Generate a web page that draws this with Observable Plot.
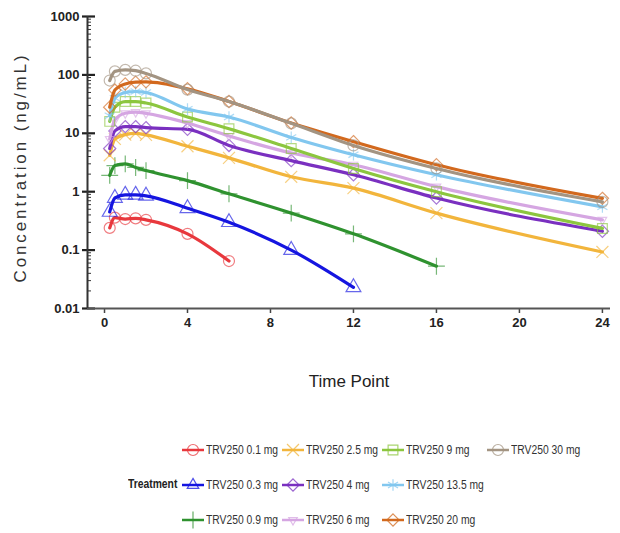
<!DOCTYPE html>
<html>
<head>
<meta charset="utf-8">
<script src="https://cdn.jsdelivr.net/npm/d3@7"></script>
<script src="https://cdn.jsdelivr.net/npm/@observablehq/plot@0.6"></script>
<style>
  body { margin: 0; background: #fff; }
  #wrap { position: relative; width: 620px; height: 533px; overflow: hidden; }
  .lg { position: absolute; display: flex; align-items: center; height: 20px;
        font-family: "Liberation Sans", Arial, sans-serif;
        font-size: 12px; color: #333; white-space: nowrap; }
  .lg svg { margin-right: 1px; flex: none; }
  .lg span { display: inline-block; transform: scaleX(0.86); transform-origin: left center; }
  .tt { position: absolute; font-family: "Liberation Sans", Arial, sans-serif;
        font-weight: bold; font-size: 12px; color: #222; transform: scaleX(0.86); transform-origin: right center; }
</style>
</head>
<body>
<div id="wrap"></div>
<script>
// ---- data ----
const times = [0.25, 0.5, 1, 1.5, 2, 4, 6, 9, 12, 16, 24];
const treatments = ["TRV250 0.1 mg", "TRV250 0.3 mg", "TRV250 0.9 mg", "TRV250 2.5 mg", "TRV250 4 mg",
                    "TRV250 6 mg", "TRV250 9 mg", "TRV250 13.5 mg", "TRV250 20 mg", "TRV250 30 mg"];
const c01  = [0.24, 0.36, 0.34, 0.35, 0.33, 0.19, 0.065];
const c03  = [0.45, 0.78, 0.88, 0.88, 0.85, 0.52, 0.30, 0.10, 0.023];
const c09  = [1.9, 2.8, 3.0, 2.6, 2.3, 1.55, 0.92, 0.43, 0.19, 0.053];
const c25  = [4.2, 8, 9.5, 10, 9.4, 6, 3.8, 1.8, 1.15, 0.43, 0.093];
const c4   = [5.5, 11, 13, 13, 12.5, 11.7, 6.2, 3.4, 1.95, 0.78, 0.21];
const c6   = [8, 17, 22, 23, 22, 15, 9, 4.6, 2.9, 1.22, 0.33];
const c9   = [16, 28, 35, 35, 33, 19, 12, 5.5, 2.5, 1.0, 0.235];
const c135 = [20, 40, 50, 52, 50, 26, 19, 8.5, 4.3, 1.95, 0.55];
const c20  = [28, 55, 70, 75, 76, 58, 35, 15, 7.2, 2.9, 0.77];
const c30  = [80, 115, 122, 118, 106, 56, 35, 14.8, 6.2, 2.5, 0.67];
const seriesValues = [c01, c03, c09, c25, c4, c6, c9, c135, c20, c30];
const yTicks = [0.01, 0.1, 1, 10, 100, 1000];
const yTickLabels = ["0.01", "0.1", "1", "10", "100", "1000"];
const xTicks = [0, 4, 8, 12, 16, 20, 24];

// ---- styles ----
const colors = ["#e8383d", "#1515e0", "#2f922f", "#f2b53c", "#7a30c0", "#d5a6e2", "#8cc63f", "#82c7ef", "#d2691e", "#a39482"];
const triDown = {
  draw(ctx, size) {
    const s = Math.sqrt(size / (Math.sqrt(3) * 0.75)) / 2;
    const h = s * Math.sqrt(3);
    ctx.moveTo(0, h * 2 / 3);
    ctx.lineTo(s, -h / 3);
    ctx.lineTo(-s, -h / 3);
    ctx.closePath();
  }
};
const symbols = ["circle", "triangle", "plus", "times", "diamond2", triDown, "square", "asterisk", "diamond2", "circle"];

const rows = [];
seriesValues.forEach((vals, i) => vals.forEach((v, j) => rows.push({t: times[j], c: v, s: i})));

const font = `"Liberation Sans", Arial, sans-serif`;
const minors = [];
for (let e = -2; e < 3; e++) for (let k = 2; k <= 9; k++) minors.push(k * Math.pow(10, e));

const marks = [];
seriesValues.forEach((vals, i) => {
  const d = rows.filter(r => r.s === i);
  marks.push(Plot.line(d, {x: "t", y: "c", stroke: colors[i], strokeWidth: 3.2, curve: "monotone-x"}));
  marks.push(Plot.dot(d, {x: "t", y: "c", symbol: symbols[i], r: 5.5, stroke: colors[i], strokeOpacity: 0.65,
                          strokeWidth: 1.2, fill: "none"}));
});

const chart = Plot.plot({
  width: 620, height: 432,
  marginLeft: 87, marginRight: 10, marginTop: 16, marginBottom: 124,
  style: {fontFamily: font, background: "#fff"},
  x: {domain: [-0.82, 24.39], label: null},
  y: {type: "log", domain: [0.01, 1000], label: null},
  marks: [
    Plot.axisY(minors, {tickSize: -4, tickFormat: () => "", stroke: "#333", strokeWidth: 1, label: null}),
    Plot.axisY(yTicks, {tickSize: -8, tickFormat: () => "", stroke: "#222", strokeWidth: 2.2, label: null}),
    Plot.axisY(yTicks, {tickSize: 5, tickPadding: 3, tickFormat: (d) => yTickLabels[yTicks.indexOf(d)],
                        stroke: "#222", strokeWidth: 2.2, fontSize: 13, fontWeight: "bold", fill: "#222", label: null}),
    Plot.axisX(xTicks, {tickSize: 5, tickPadding: 4, fontSize: 13, fontWeight: "bold", fill: "#222",
                        stroke: "#444", strokeWidth: 1.5, label: null}),
    Plot.ruleY([0.01], {stroke: "#555", strokeWidth: 2}),
    Plot.ruleX([-0.82], {stroke: "#333", strokeWidth: 2}),
    ...marks,
    Plot.text(["Concentration (ng/mL)"], {frameAnchor: "left", textAnchor: "middle", rotate: -90, dx: -67, dy: 5,
        fontSize: 17, fill: "#333", fontFamily: font}),
    Plot.text(["Time Point"], {frameAnchor: "bottom", textAnchor: "middle", dy: 78, fontSize: 17, fill: "#222",
        fontFamily: font})
  ]
});
const wrap = document.getElementById("wrap");
wrap.appendChild(chart);
d3.select(chart).selectAll("text").filter(function() { return this.textContent === "Concentration (ng/mL)"; })
  .style("letter-spacing", "2.9px");

// ---- legend ----
const colLeft = [181, 281, 381, 486];
const rowCenter = [450, 485, 520];
const order = [[0, 1, 2], [3, 4, 5], [6, 7, 8], [9]];
order.forEach((col, ci) => col.forEach((si, ri) => {
  const div = document.createElement("div");
  div.className = "lg";
  div.style.left = colLeft[ci] + "px";
  div.style.top = (rowCenter[ri] - 10) + "px";
  const svg = d3.create("svg").attr("width", 24).attr("height", 20);
  svg.append("line").attr("x1", 1).attr("x2", 23).attr("y1", 10).attr("y2", 10)
     .attr("stroke", colors[si]).attr("stroke-width", 2.5);
  const sym = symbols[si];
  const type = typeof sym === "string" ? {
      circle: d3.symbolCircle, triangle: d3.symbolTriangle2, plus: d3.symbolPlus, times: d3.symbolTimes,
      diamond2: d3.symbolDiamond2, square: d3.symbolSquare, asterisk: d3.symbolAsterisk}[sym] : sym;
  svg.append("path").attr("transform", "translate(12,10)")
     .attr("d", d3.symbol(type, 5.5 * 5.5 * Math.PI)())
     .attr("fill", "none").attr("stroke", colors[si]).attr("stroke-opacity", 0.75).attr("stroke-width", 1.2);
  div.appendChild(svg.node());
  const sp = document.createElement("span");
  sp.textContent = treatments[si];
  div.appendChild(sp);
  wrap.appendChild(div);
}));
const tt = document.createElement("div");
tt.className = "tt";
tt.textContent = "Treatment";
tt.style.right = (620 - 177) + "px";
tt.style.top = (485 - 8) + "px";
wrap.appendChild(tt);
</script>
</body>
</html>
